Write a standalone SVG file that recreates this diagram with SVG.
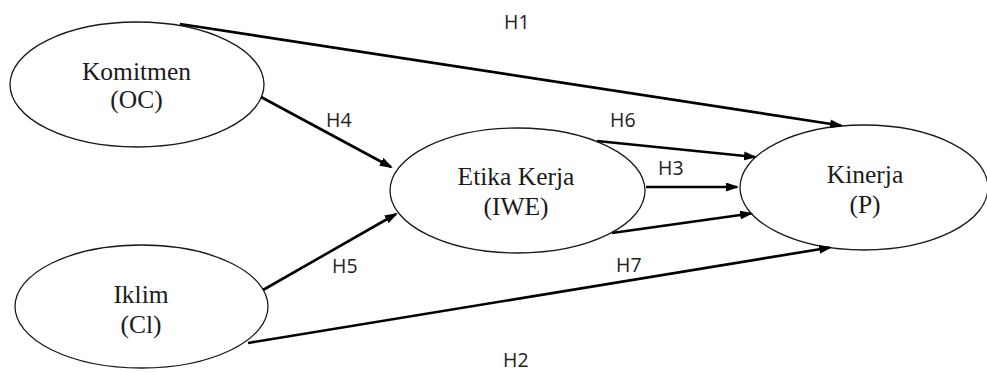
<svg xmlns="http://www.w3.org/2000/svg" width="987" height="372" viewBox="0 0 987 372">
  <style>
    .node ellipse { fill: #ffffff; stroke: #1a1a1a; stroke-width: 1.3; }
    .node text { font-family: "Liberation Serif", "Times New Roman", serif; font-size: 25.5px; fill: #1a1a1a; text-anchor: middle; }
    .edge { stroke: #000000; stroke-width: 2.6; fill: none; marker-end: url(#arrow); }
    .lbl { font-family: "Open Sans", "DejaVu Sans", sans-serif; font-size: 19.5px; fill: #222222; }
  </style>
  <defs>
    <marker id="arrow" markerUnits="userSpaceOnUse" markerWidth="14" markerHeight="10" refX="11" refY="4.5" orient="auto">
      <path d="M0,0 L13,4.5 L0,9 z" fill="#000000"/>
    </marker>
  </defs>
  <rect width="987" height="372" fill="#ffffff"/>

  <!-- constructs -->
  <g id="node-komitmen" class="node">
    <ellipse cx="137" cy="84.5" rx="127" ry="62.5"/>
    <text x="136.5" y="80">Komitmen</text>
    <text x="136.5" y="108">(OC)</text>
  </g>
  <g id="node-iklim" class="node">
    <ellipse cx="141.5" cy="306.5" rx="126.5" ry="61.5"/>
    <text x="141" y="303">Iklim</text>
    <text x="141" y="333">(Cl)</text>
  </g>
  <g id="node-etika" class="node">
    <ellipse cx="517.5" cy="190.5" rx="127.5" ry="62.5"/>
    <text x="516" y="185">Etika Kerja</text>
    <text x="516" y="215">(IWE)</text>
  </g>
  <g id="node-kinerja" class="node">
    <ellipse cx="864" cy="187.5" rx="124" ry="62.5"/>
    <text x="865" y="183">Kinerja</text>
    <text x="865" y="213">(P)</text>
  </g>

  <!-- paths between constructs -->
  <g id="connectors">
    <line class="edge" x1="180" y1="24" x2="841" y2="125.5"/>
    <line class="edge" x1="261" y1="97" x2="391" y2="167"/>
    <line class="edge" x1="263" y1="290" x2="396" y2="214"/>
    <line class="edge" x1="597" y1="141" x2="755" y2="157"/>
    <line class="edge" x1="646" y1="187" x2="737" y2="187"/>
    <line class="edge" x1="612" y1="233" x2="751" y2="213.5"/>
    <line class="edge" x1="248" y1="343" x2="830" y2="247.5"/>
  </g>

  <!-- hypothesis labels -->
  <g id="labels">
    <text class="lbl" x="504" y="29">H1</text>
    <text class="lbl" x="326" y="127">H4</text>
    <text class="lbl" x="610" y="127">H6</text>
    <text class="lbl" x="658" y="175">H3</text>
    <text class="lbl" x="332" y="273">H5</text>
    <text class="lbl" x="616" y="272">H7</text>
    <text class="lbl" x="503" y="367">H2</text>
  </g>
</svg>
